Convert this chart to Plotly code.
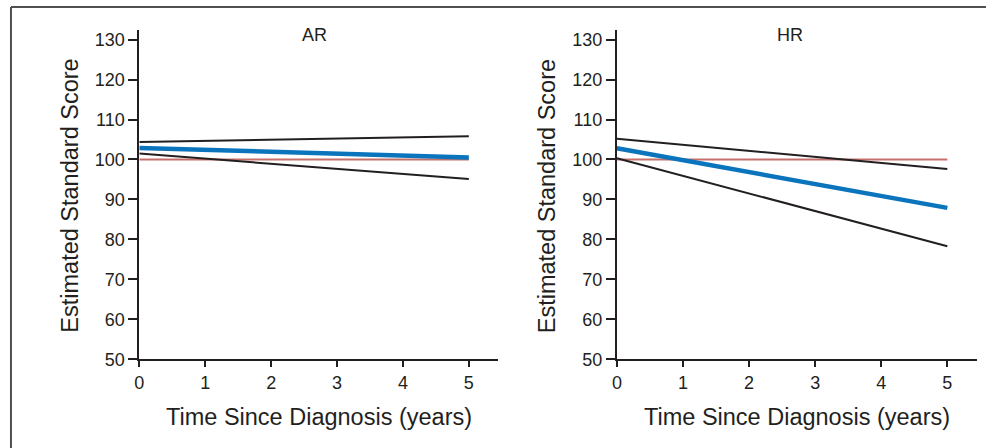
import plotly.graph_objects as go

# ---- data ----
years = [0, 5]
ar_mean = [102.9, 100.5]
ar_upper = [104.4, 105.8]
ar_lower = [101.5, 95.1]
hr_mean = [102.8, 87.9]
hr_upper = [105.2, 97.6]
hr_lower = [100.3, 78.3]
reference = [100, 100]
panel_titles = ["AR", "HR"]
y_ticks = [50, 60, 70, 80, 90, 100, 110, 120, 130]
x_ticks = [0, 1, 2, 3, 4, 5]

W, H = 986, 448          # reference picture size (used for paper fractions)
FIG_H = 458              # rendered height
FONT = "Liberation Sans, Arial, Helvetica, sans-serif"
INK = "#231f20"
BLUE = "#0a74bd"
RED = "#c46f69"

fig = go.Figure()

panels = [
    (ar_mean, ar_upper, ar_lower, "x", "y"),
    (hr_mean, hr_upper, hr_lower, "x2", "y2"),
]
for mean, up, lo, xa, ya in panels:
    fig.add_trace(go.Scatter(x=years, y=reference, mode="lines", xaxis=xa, yaxis=ya,
                             line=dict(color=RED, width=2), showlegend=False, hoverinfo="skip"))
    fig.add_trace(go.Scatter(x=years, y=up, mode="lines", xaxis=xa, yaxis=ya,
                             line=dict(color=INK, width=2), showlegend=False))
    fig.add_trace(go.Scatter(x=years, y=lo, mode="lines", xaxis=xa, yaxis=ya,
                             line=dict(color=INK, width=2), showlegend=False))
    fig.add_trace(go.Scatter(x=years, y=mean, mode="lines", xaxis=xa, yaxis=ya,
                             line=dict(color=BLUE, width=4.5), showlegend=False))

ybot, ytop = 1 - 359.3 / H, 1 - 30 / H
doms = [(135 / W, 496 / W), (615 / W, 977 / W)]

common_x = dict(range=[0, 5.45], tickvals=x_ticks, showgrid=False, zeroline=False,
                showline=True, linecolor=INK, linewidth=2, ticks="outside", ticklen=6,
                tickwidth=1.5, tickcolor=INK, tickfont=dict(family=FONT, size=18, color=INK))
common_y = dict(range=[50, 132.4], tickvals=y_ticks, showgrid=False, zeroline=False,
                showline=True, linecolor=INK, linewidth=2, ticks="outside", ticklen=9,
                tickwidth=1.5, tickcolor=INK, tickfont=dict(family=FONT, size=18, color=INK))

fig.update_layout(
    width=W, height=FIG_H,
    margin=dict(l=0, r=0, t=0, b=0),
    paper_bgcolor="white", plot_bgcolor="white",
    xaxis=dict(domain=list(doms[0]), anchor="y", **common_x),
    yaxis=dict(domain=[ybot, ytop], anchor="x", **common_y),
    xaxis2=dict(domain=list(doms[1]), anchor="y2", **common_x),
    yaxis2=dict(domain=[ybot, ytop], anchor="x2", **common_y),
)

ann = []
title_x = [311, 789]
ytitle_x = [65, 545]
for i, (d0, d1) in enumerate(doms):
    cx = (d0 + d1) / 2
    ann.append(dict(text="Time Since Diagnosis (years)", x=cx, y=1 - 417 / H, xref="paper", yref="paper",
                    xanchor="center", yanchor="middle", showarrow=False,
                    font=dict(family=FONT, size=23.5, color=INK)))
    ann.append(dict(text="Estimated Standard Score", x=ytitle_x[i] / W, y=1 - 196 / H, xref="paper",
                    yref="paper", xanchor="center", yanchor="middle", showarrow=False, textangle=-90,
                    font=dict(family=FONT, size=23.5, color=INK)))
    ann.append(dict(text=panel_titles[i], x=title_x[i] / W, y=1 - 35 / H, xref="paper", yref="paper",
                    xanchor="center", yanchor="middle", showarrow=False,
                    font=dict(family=FONT, size=18, color=INK)))
fig.update_layout(annotations=ann)

# outer frame (top and left edges)
fig.add_shape(type="line", xref="paper", yref="paper", x0=6 / W, x1=1.01, y0=1 - 7 / H, y1=1 - 7 / H,
              line=dict(color="#505050", width=2))
fig.add_shape(type="line", xref="paper", yref="paper", x0=6 / W, x1=6 / W, y0=1 - 7 / H, y1=-0.01,
              line=dict(color="#505050", width=2))

fig.write_html("out.html", config={"displayModeBar": False},
               post_script="document.body.style.margin='0';document.body.style.overflow='hidden';")
